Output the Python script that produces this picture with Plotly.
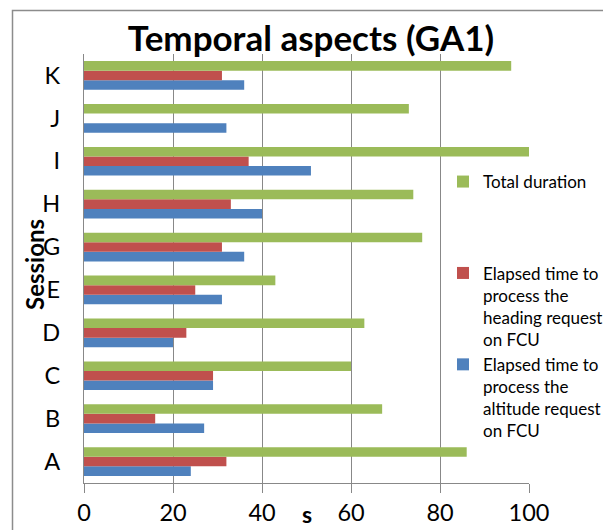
import plotly.graph_objects as go

sessions = ["A", "B", "C", "D", "E", "G", "H", "I", "J", "K"]
altitude = [24, 27, 29, 20, 31, 36, 40, 51, 32, 36]
heading = [32, 16, 29, 23, 25, 31, 33, 37, 0, 31]
total = [86, 67, 60, 63, 43, 76, 74, 100, 73, 96]
x_ticks = [0, 20, 40, 60, 80, 100]

name_alt = "Elapsed time to<br>process the<br>altitude request<br>on FCU"
name_head = "Elapsed time to<br>process the<br>heading request<br>on FCU"
name_total = "Total duration<br> <br> <br> "

FONT = "Lato"
OFF = 8  # page body margin
W, H = 611 - OFF, 530 - OFF
L, T = 84 - OFF, 54 - OFF
R = W - (529 - OFF)
B = H - (483 - OFF)
pw, ph = W - L - R, H - T - B

def px(xp):  # page pixel x -> paper
    return (xp - OFF - L) / pw

def py(yp):  # page pixel y -> paper
    return (H - B - (yp - OFF)) / ph

fig = go.Figure()
fig.add_trace(go.Bar(y=sessions, x=altitude, orientation="h", name=name_alt,
                     marker=dict(color="#4F81BD", line=dict(width=0)), legendgroup="a"))
fig.add_trace(go.Bar(y=sessions, x=heading, orientation="h", name=name_head,
                     marker=dict(color="#C0504D", line=dict(width=0)), legendgroup="b"))
fig.add_trace(go.Bar(y=sessions, x=total, orientation="h", name=name_total,
                     marker=dict(color="#9BBB59", line=dict(width=0)), legendgroup="c"))

fig.update_layout(
    width=W, height=H,
    margin=dict(l=L, r=R, t=T, b=B, pad=0, autoexpand=False),
    paper_bgcolor="white", plot_bgcolor="white",
    barmode="group", bargap=0.33, bargroupgap=0,
    font=dict(family=FONT, color="black"),
    title=dict(text="<b>Temporal aspects (GA1)</b>", x=(311 - OFF) / W, xanchor="center",
               y=1 - 31 / H, yanchor="middle", font=dict(size=35, family=FONT, color="black")),
    xaxis=dict(range=[0, 100], tickvals=x_ticks, showgrid=True, gridcolor="#888888", gridwidth=1.3,
               zeroline=False, showline=True, linecolor="#888888", linewidth=1.3,
               ticks="outside", ticklen=9, tickcolor="#888888", tickwidth=1.3, automargin=False,
               tickfont=dict(size=23.5, family=FONT, color="black"), fixedrange=True),
    yaxis=dict(categoryorder="array", categoryarray=sessions, showgrid=False, zeroline=False,
               showline=True, linecolor="#888888", linewidth=1.3, ticks="", automargin=False,
               tickfont=dict(size=23.5, family=FONT, color="black"), ticklabelstandoff=18,
               fixedrange=True),
    legend=dict(x=px(443), y=py(164), xanchor="left", yanchor="top", traceorder="reversed",
                valign="top", bgcolor="rgba(0,0,0,0)", borderwidth=0, tracegroupgap=0,
                font=dict(size=17, family=FONT, color="black")),
    showlegend=True,
    shapes=[
        dict(type="rect", xref="paper", yref="paper", x0=px(12.5), x1=px(608),
             y0=py(560), y1=py(10.5), line=dict(color="#8c8c8c", width=1.5), layer="below"),
        # white legend background (hides the gridline behind the legend)
        dict(type="rect", xref="paper", yref="paper", x0=px(456), x1=px(604),
             y0=py(442), y1=py(173), line=dict(width=0), fillcolor="white", layer="above"),
    ],
    annotations=[
        dict(text="<b>Sessions</b>", xref="paper", yref="paper", x=px(34), y=py(265),
             showarrow=False, textangle=-90, font=dict(size=24, family=FONT, color="black"),
             xanchor="center", yanchor="middle"),
        dict(text="<b>s</b>", xref="paper", yref="paper", x=px(307), y=py(514),
             showarrow=False, font=dict(size=23, family=FONT, color="black"),
             xanchor="center", yanchor="middle"),
    ],
)

fig.write_html("out.html")
